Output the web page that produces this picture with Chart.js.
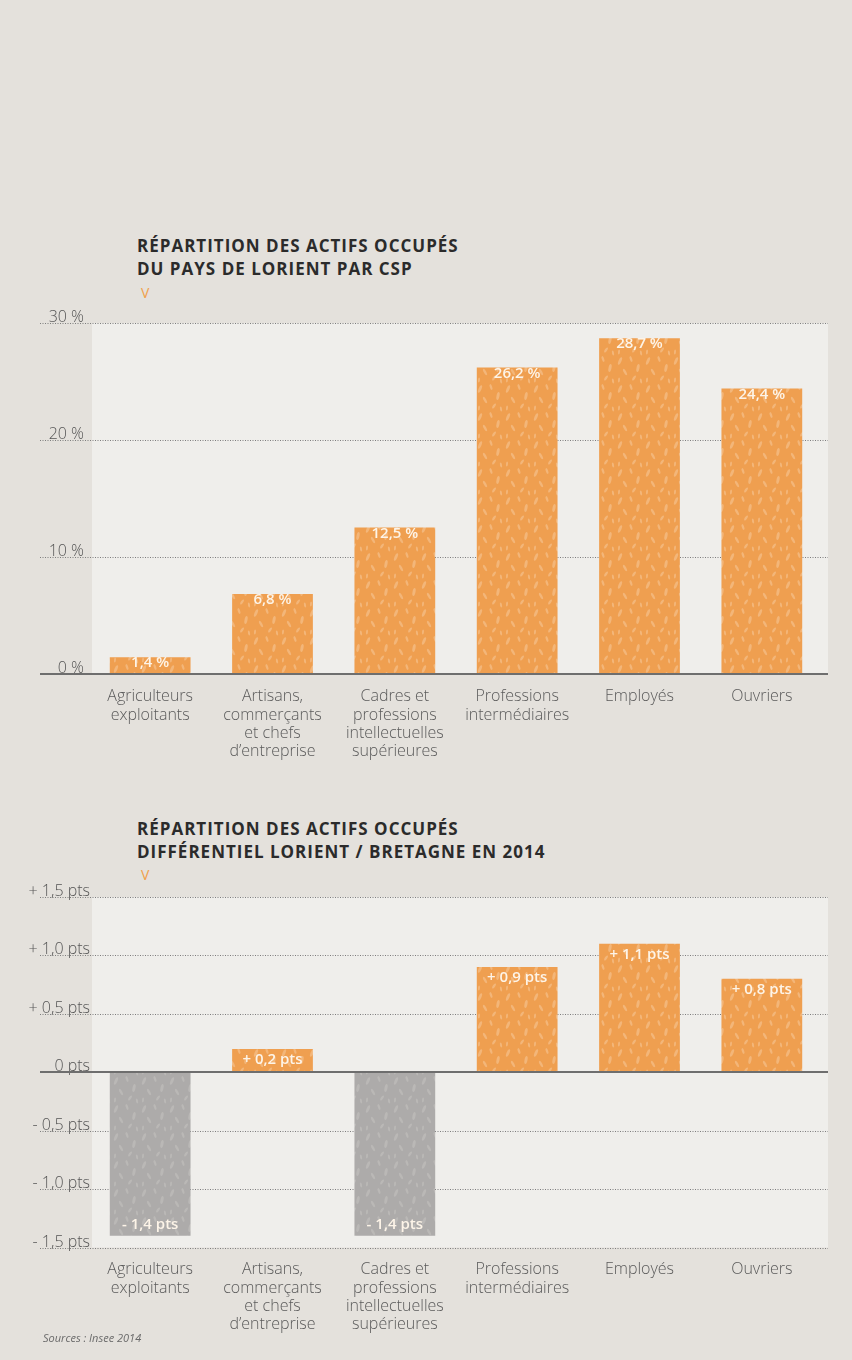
<!DOCTYPE html>
<html lang="fr">
<head>
<meta charset="utf-8">
<script src="https://cdn.jsdelivr.net/npm/chart.js@4.4.1/dist/chart.umd.min.js"></script>
<style>
  body { margin: 0; background: #e4e1dc; width: 852px; height: 1360px; position: relative; overflow: hidden; font-family: "Open Sans", sans-serif; }
  .titre { position: absolute; left: 137px; font-weight: 700; font-size: 17px; line-height: 23px; color: #2b2b2b; margin: 0; letter-spacing: 1px; }
  .chevron { position: absolute; left: 141px; color: #f0a04b; font-size: 14px; font-weight: 400; line-height: 14px; }
  canvas { position: absolute; left: 0; }
  .sources { position: absolute; left: 43px; top: 1330px; font-size: 11px; font-style: italic; color: #6a6a6a; z-index: 2; }
</style>
</head>
<body>
<div class="titre" style="top:234px">RÉPARTITION DES ACTIFS OCCUPÉS<br>DU PAYS DE LORIENT PAR CSP</div>
<div class="chevron" style="top:286px">V</div>
<canvas id="cspChart" style="top:300px"></canvas>

<div class="titre" style="top:817px">RÉPARTITION DES ACTIFS OCCUPÉS<br>DIFFÉRENTIEL LORIENT / BRETAGNE EN 2014</div>
<div class="chevron" style="top:868px">V</div>
<canvas id="diffChart" style="top:880px"></canvas>

<div class="sources">Sources : Insee 2014</div>

<script>
// Catégories socio-professionnelles
const categories = [
    ['Agriculteurs', 'exploitants'],
    ['Artisans,', 'commerçants', 'et chefs', 'd’entreprise'],
    ['Cadres et', 'professions', 'intellectuelles', 'supérieures'],
    ['Professions', 'intermédiaires'],
    ['Employés'],
    ['Ouvriers']
];

// Graphique 1 : répartition (%)
const partCsp = [1.4, 6.8, 12.5, 26.2, 28.7, 24.4];
const partLabels = ['1,4 %', '6,8 %', '12,5 %', '26,2 %', '28,7 %', '24,4 %'];
const partTicks = [0, 10, 20, 30];
const partTickLabels = ['0 %', '10 %', '20 %', '30 %'];

// Graphique 2 : différentiel Lorient / Bretagne (pts)
const diffBretagne = [-1.4, 0.2, -1.4, 0.9, 1.1, 0.8];
const diffLabels = ['- 1,4 pts', '+ 0,2 pts', '- 1,4 pts', '+ 0,9 pts', '+ 1,1 pts', '+ 0,8 pts'];
const diffTicks = [-1.5, -1, -0.5, 0, 0.5, 1, 1.5];
const diffTickLabels = ['- 1,5 pts', '- 1,0 pts', '- 0,5 pts', '0 pts', '+ 0,5 pts', '+ 1,0 pts', '+ 1,5 pts'];

// texture "grains" des barres (motif fixe)
function texture(base, light) {
    const tile = document.createElement('canvas');
    tile.width = 28; tile.height = 28;
    const t = tile.getContext('2d');
    t.fillStyle = base;
    t.fillRect(0, 0, 28, 28);
    t.fillStyle = light;
    const grains = [[4, 5, 1.5, 4, 0.4], [15, 3, 1.2, 3, -0.3], [22, 12, 1.5, 4, 0.2], [9, 16, 1.3, 3.5, -0.5], [18, 22, 1.2, 3, 0.6], [3, 24, 1, 2.5, 0.1], [25, 25, 1, 2.5, -0.2]];
    grains.forEach(g => {
        t.beginPath();
        t.ellipse(g[0], g[1], g[2], g[3], g[4], 0, Math.PI * 2);
        t.fill();
    });
    return t.createPattern(tile, 'repeat');
}

// fond clair, pointillés, libellés de l'axe Y et valeurs dans les barres
function decor(ticks, tickLabels, valueLabels, labelRight, offset) {
    return {
        id: 'decor',
        beforeDatasetsDraw(chart) {
            const ctx = chart.ctx;
            const y = chart.scales.y;
            const top = y.getPixelForValue(ticks[ticks.length - 1]);
            const bottom = y.getPixelForValue(ticks[0]);
            ctx.save();
            ctx.fillStyle = '#efeeeb';
            ctx.fillRect(92, top, 828 - 92, bottom - top);

            ctx.font = '300 16px "Open Sans"';
            ctx.fillStyle = '#555';
            ctx.textAlign = 'right';
            ctx.textBaseline = 'alphabetic';
            ticks.forEach((t, i) => {
                const py = Math.round(y.getPixelForValue(t)) + 0.5;
                if (t !== 0) {
                    ctx.strokeStyle = '#7d7d7d';
                    ctx.lineWidth = 1;
                    ctx.setLineDash([1, 1.5]);
                    ctx.beginPath();
                    ctx.moveTo(40, py);
                    ctx.lineTo(828, py);
                    ctx.stroke();
                }
                ctx.fillText(tickLabels[i], labelRight, py - 2);
            });
            ctx.restore();
        },
        afterDatasetsDraw(chart) {
            const ctx = chart.ctx;
            const y = chart.scales.y;
            const py = Math.round(y.getPixelForValue(0));
            ctx.save();
            ctx.strokeStyle = '#6e6e6e';
            ctx.lineWidth = 2;
            ctx.setLineDash([]);
            ctx.beginPath();
            ctx.moveTo(40, py);
            ctx.lineTo(828, py);
            ctx.stroke();

            ctx.font = '600 15px "Open Sans"';
            ctx.fillStyle = '#fdf4e8';
            ctx.textAlign = 'center';
            ctx.textBaseline = 'middle';
            const meta = chart.getDatasetMeta(0);
            meta.data.forEach((bar, i) => {
                const v = chart.data.datasets[0].data[i];
                const ly = v >= 0 ? bar.y + offset : bar.y - offset;
                ctx.fillText(valueLabels[i], bar.x, ly);
            });
            ctx.restore();
        }
    };
}

function xAxis(padding) {
    return {
        grid: { display: false },
        border: { display: false },
        ticks: {
            color: '#5a5a5a',
            font: { family: 'Open Sans', size: 16, weight: '300', lineHeight: 1.15 },
            padding: padding,
            maxRotation: 0,
            autoSkip: false
        },
        afterFit(scale) { scale.height = 90; }
    };
}

document.addEventListener('DOMContentLoaded', function () {
    Chart.defaults.font.family = 'Open Sans';
    const orange = texture('#ef9f50', '#f3b679');
    const gris = texture('#adabaa', '#bab8b6');

    const c1 = document.getElementById('cspChart');
    c1.width = 852; c1.height = 470;
    new Chart(c1.getContext('2d'), {
        type: 'bar',
        data: {
            labels: categories,
            datasets: [{
                data: partCsp,
                backgroundColor: orange,
                borderWidth: 0,
                barPercentage: 0.66,
                categoryPercentage: 1
            }]
        },
        options: {
            responsive: false,
            animation: false,
            layout: { padding: { top: 23, left: 89, right: 29, bottom: 6.5 } },
            plugins: { legend: { display: false }, tooltip: { enabled: false } },
            scales: {
                x: xAxis(6),
                y: { display: false, min: 0, max: 30 }
            }
        },
        plugins: [decor(partTicks, partTickLabels, partLabels, 84, 6)]
    });

    const c2 = document.getElementById('diffChart');
    c2.width = 852; c2.height = 470;
    new Chart(c2.getContext('2d'), {
        type: 'bar',
        data: {
            labels: categories,
            datasets: [{
                data: diffBretagne,
                backgroundColor: diffBretagne.map(v => v >= 0 ? orange : gris),
                borderWidth: 0,
                barPercentage: 0.66,
                categoryPercentage: 1
            }]
        },
        options: {
            responsive: false,
            animation: false,
            layout: { padding: { top: 17, left: 89, right: 29, bottom: 12.5 } },
            plugins: { legend: { display: false }, tooltip: { enabled: false } },
            scales: {
                x: xAxis(5),
                y: { display: false, min: -1.5, max: 1.5 }
            }
        },
        plugins: [decor(diffTicks, diffTickLabels, diffLabels, 90, 11)]
    });
});
</script>
</body>
</html>
